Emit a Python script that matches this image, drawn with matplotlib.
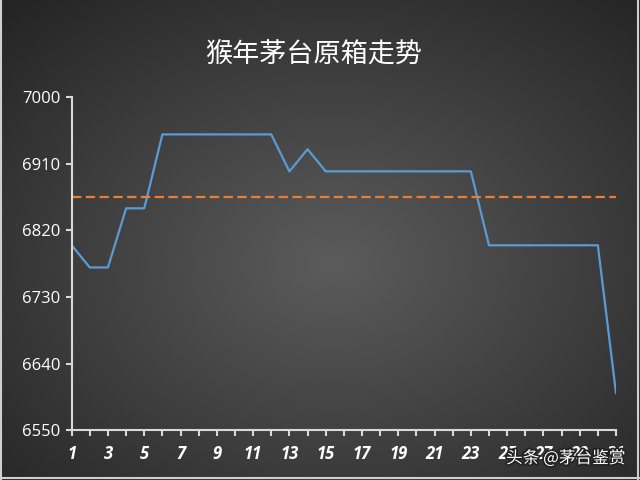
import numpy as np
import matplotlib.pyplot as plt
import matplotlib.patheffects as pe
from matplotlib.lines import Line2D

plt.rcParams['font.family'] = ['Noto Sans CJK SC', 'DejaVu Sans']

# daily price, 1..31
days = list(range(1, 32))
prices = [6800, 6770, 6770, 6850, 6850,
          6950, 6950, 6950, 6950, 6950, 6950, 6950,
          6900, 6930,
          6900, 6900, 6900, 6900, 6900, 6900, 6900, 6900, 6900,
          6800, 6800, 6800, 6800, 6800, 6800, 6800,
          6600]
avg_price = np.mean(prices)
y_ticks = [6550, 6640, 6730, 6820, 6910, 7000]

title = '猴年茅台原箱走势'
watermark = '头条 @茅台鉴赏'

fig = plt.figure(figsize=(6.4, 4.8), dpi=100)

# radial gradient background
bg = fig.add_axes([0, 0, 1, 1], zorder=-10)
gx, gy = np.meshgrid(np.linspace(0, 1, 320), np.linspace(0, 1, 240))
r = np.sqrt(((gx - 0.52) / 0.75) ** 2 + ((gy - 0.55) / 0.75) ** 2)
shade = np.clip(0.36 - 0.22 * r, 0.14, 0.36)
bg.imshow(np.dstack([shade, shade, shade]), extent=[0, 1, 0, 1],
          aspect='auto', origin='upper')
bg.set_xlim(0, 1)
bg.set_ylim(0, 1)
bg.axis('off')

# light frame on left / right / bottom
for xs, ys in [([0.002, 0.002], [0, 1]), ([0.997, 0.997], [0, 1]),
               ([0, 1], [0.004, 0.004])]:
    fig.add_artist(Line2D(xs, ys, color='#cfcfcf', lw=1.5,
                          transform=fig.transFigure))

ax = fig.add_axes([0.112, 0.104, 0.8505, 0.693])
ax.patch.set_alpha(0)

ax.plot(days, prices, color='#5b9bd5', lw=1.6)
ax.plot([days[0], days[-1]], [avg_price, avg_price], color='#ed7d31',
        lw=1.6, linestyle=(0, (4.2, 2.0)))

ax.set_xlim(1, 31)
ax.set_ylim(6550, 7000)
ax.set_yticks(y_ticks)
ax.set_xticks(days[::2])
ax.set_xticks(days[1::2], minor=True)

for s in ['top', 'right']:
    ax.spines[s].set_visible(False)
for s in ['left', 'bottom']:
    ax.spines[s].set_color('#d9d9d9')
    ax.spines[s].set_linewidth(1.5)

ax.tick_params(axis='y', colors='#d9d9d9', length=4, width=1.5, pad=4,
               labelcolor='white', labelsize=12)
ax.tick_params(axis='x', which='both', colors='#d9d9d9', length=4.5,
               width=1.5, pad=6)
for lab in ax.get_yticklabels():
    lab.set_family(['Open Sans', 'DejaVu Sans'])
for lab in ax.get_xticklabels():
    lab.set_family(['Open Sans', 'DejaVu Sans'])
    lab.set_fontweight('bold')
    lab.set_fontstyle('italic')
    lab.set_fontsize(12)
    lab.set_color('white')

fig.text(0.49, 0.885, title, ha='center', va='center', fontsize=19.5,
         color='white')

fig.text(0.977, 0.045, watermark, ha='right', va='center', fontsize=12,
         color='white',
         path_effects=[pe.withStroke(linewidth=2.5, foreground='#222222')])

fig.savefig('out.png', dpi=100)
